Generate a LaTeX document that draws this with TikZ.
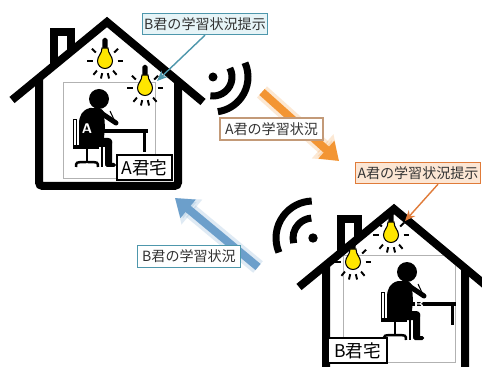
\documentclass[tikz,border=0pt]{standalone}
\usepackage{fontspec}
\newfontfamily\jp{Noto Sans CJK JP}
\usetikzlibrary{arrows.meta}
\definecolor{lampyellow}{HTML}{FFE600}
\definecolor{sendorange}{HTML}{F39533}
\definecolor{sendblue}{HTML}{6C9FCB}
\definecolor{tealline}{HTML}{4E97AC}
\definecolor{tealfill}{HTML}{E6F4F7}
\definecolor{orangeline}{HTML}{E07B39}
\definecolor{orangefill}{HTML}{FCE6D4}
\definecolor{tanline}{HTML}{C39A78}

\begin{document}
\begin{tikzpicture}[x=0.02cm, y=-0.02cm,
    outline/.style={line width=0.16cm, line join=miter},
    frame/.style={draw=black!30, line width=0.4pt},
    ray/.style={line width=1.1pt},
    wave/.style={line width=0.14cm},
    plate/.style={draw=black, fill=white, line width=0.8pt, inner sep=0pt,
                  minimum height=0.5cm, font=\jp\fontsize{10}{12}\selectfont},
    tag/.style={draw=#1, fill=white, line width=0.8pt, inner sep=0pt,
                minimum width=2.06cm, minimum height=0.44cm, text=black!80,
                font=\jp\fontsize{8}{10}\selectfont},
    note/.style 2 args={draw=#1, fill=#2, line width=0.8pt, inner sep=0pt,
                minimum width=2.5cm, minimum height=0.42cm, text=black!80,
                font=\jp\fontsize{8}{10}\selectfont},
    letter/.style={text=white, inner sep=0pt, font=\sffamily\bfseries\fontsize{8}{8}\selectfont},
    bigarrow/.style={line width=0.16cm, -{Triangle[width=0.46cm,length=0.34cm]}},
    halo/.style={line width=0.3cm, opacity=.3, -{Triangle[width=0.62cm,length=0.44cm]}},
    pointer/.style={line width=0.8pt, -{Stealth[length=6pt,width=5pt]}},
    % outline of a house, origin at the roof peak
    house/.pic={
      \draw[outline] (-95,78) -- (0,0) -- (96,80);
      \draw[outline] (-53,43.5) -- (-53,10) -- (-36,10) -- (-36,29.6);
      \draw[outline, rounded corners=2] (-68,55.8) -- (-68,164) -- (71,164) -- (71,59);
    },
    % light bulb, origin at the centre of the glass
    bulb/.pic={
      \fill[black, rounded corners=1pt] (-2.6,-12) rectangle (2.6,-23);
      \filldraw[fill=lampyellow, draw=black, line width=0.6pt]
        (-3,-13) -- (3,-13) .. controls (3,-7) and (7.5,-5) .. (7.5,0)
        arc[start angle=0, end angle=180, radius=7.5]
        .. controls (-7.5,-5) and (-3,-7) .. cycle;
      \foreach \a in {0,-43,-137,180,50,77,103,130}
        \draw[ray] (\a:12.5) -- (\a:18);
    },
    % pupil at a desk, origin at the head
    student/.pic={
      \fill (0,0) circle (10);
      \fill (-9,9) .. controls (-17,11) and (-20,17) .. (-20,25) -- (-20,46)
        -- (4,48) -- (6,29) -- (5,13) .. controls (2,9) .. cycle;
      \fill[rounded corners=2] (-20,39) rectangle (13,48);
      \fill[rounded corners=1] (6,40) rectangle (13,67);
      \fill[rounded corners=1] (6,64) rectangle (17,68);
      \draw[line width=0.1cm, line cap=round] (2,14) -- (17,24);
      \draw[line width=0.6pt] (11,12) -- (17,25);
      % desk
      \fill (0,30) rectangle (49,34);
      \fill (1.5,34) rectangle (4,68);
      \fill (44,34) rectangle (46.5,53);
      % chair
      \draw[line width=0.5pt] (-26,20) rectangle (-23,47);
      \fill (-26,46) rectangle (0,50);
      \fill (-13.5,50) rectangle (-11,63);
      \draw[line width=0.05cm] (-23,68) .. controls (-23,63) .. (-12,63)
        .. controls (-1,63) .. (-1,68);
    }
  ]
  \path[use as bounding box] (0,0) rectangle (482,367);
  \clip (0,0) rectangle (482,367);
  \fill[white] (0,0) rectangle (482,367);

  % rooms
  \draw[frame] (63,82) rectangle (155,178);
  \draw[frame] (343,255) rectangle (455,362);
  \pic at (107,22) {house};
  \pic at (394,209) {house};

  \pic at (99,99) {student};
  \begin{scope}[shift={(407,272)}, xscale=-1.06, yscale=1.06]
    \pic {student};
  \end{scope}
  \node[letter] (backA) at (87,129) {A};
  \node[letter] (backB) at (419,305) {B};

  \pic at (105,61) {bulb};
  \pic at (145,88) {bulb};
  \pic at (391,235) {bulb};
  \pic at (353,262) {bulb};

  \node[plate, minimum width=1.1cm] (homeA) at (144.5,167.5) {A君宅};
  \node[plate, minimum width=1.18cm] (homeB) at (357.5,350.5) {B君宅};

  % wireless signs
  \coordinate (wifiA) at (213,77);
  \fill (wifiA) circle (4.5);
  \draw[wave] ([shift={(-28:19)}]wifiA) arc[start angle=-28, end angle=98, radius=19];
  \draw[wave] ([shift={(-24:35)}]wifiA) arc[start angle=-24, end angle=82, radius=35];
  \coordinate (wifiB) at (313,238);
  \fill (wifiB) circle (4.7);
  \draw[wave] ([shift={(165:20)}]wifiB) arc[start angle=165, end angle=265, radius=20];
  \draw[wave] ([shift={(157:37)}]wifiB) arc[start angle=157, end angle=268, radius=37];

  % data flow
  \coordinate (sendA) at (262,92);
  \coordinate (recvB) at (339,161);
  \coordinate (sendB) at (258,267);
  \coordinate (recvA) at (175,198);
  \draw[halo, sendorange!70] (sendA) -- (recvB);
  \draw[bigarrow, sendorange] (sendA) -- (recvB);
  \draw[halo, sendblue!70] (sendB) -- (recvA);
  \draw[bigarrow, sendblue] (sendB) -- (recvA);
  \node[tag=tanline] (flowA) at (271.5,129) {A君の学習状況};
  \node[tag=tealline] (flowB) at (189,256.5) {B君の学習状況};

  % notes on the lamps
  \node[note={tealline}{tealfill}] (noteB) at (205,24) {B君の学習状況提示};
  \node[note={orangeline}{orangefill}] (noteA) at (418,173) {A君の学習状況提示};
  \coordinate (lampA) at (157,81);
  \coordinate (lampB) at (405,221);
  \draw[pointer, tealline] (noteB.south) -- (lampA);
  \draw[pointer, orangeline] ([xshift=0.4cm]noteA.south) -- (lampB);
\end{tikzpicture}
\end{document}
